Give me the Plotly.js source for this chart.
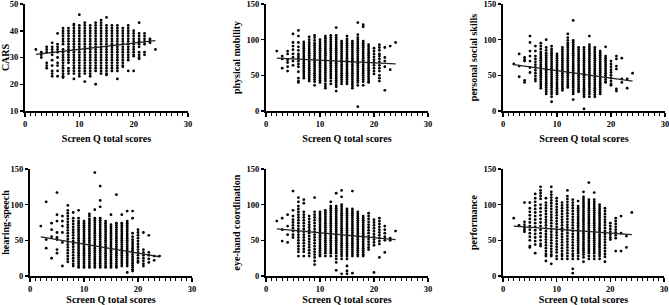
<!DOCTYPE html>
<html>
<head>
<meta charset="utf-8">
<script src="https://cdn.plot.ly/plotly-3.0.1.min.js"></script>
<style>html,body{margin:0;padding:0;background:#fff}#chart{width:669px;height:305px}</style>
</head>
<body>
<div id="chart"></div>
<script>
// Screen Q total score columns: [score, [outcome values]]
const carsCols = [
 [2,[33]],[3,[32,31,30]],[4,[34,33,32,28,27,26]],
 [5,[35.5,34,33,32,31,29,27,25,24,23]],
 [6,[39,35,34,33,32,30,28,27,25,23]],
 [7,[41,40,39,38,37,36,35,33,32,31,30,29,28,27,26,25,24,23,22.5]],
 [8,[41,40,39,38,37,36,35,34,33,32,31,30,29,28,26,25,24]],
 [9,[42.5,42,41,40,39,38,37,36,35,34,33,32,31,30,29,28,27,26,25,24,22]],
 [10,[46,42,41,40,39,38,37,36,35,34,33,32,31,30,29,28,27,26,25,24,23]],
 [11,[43,42,41,40,39,38,37,36,35,34,33,32,31,30,29,28,27,26,25,24,21]],
 [12,[42,41,40,39,38,37,36,35,34,33,32,31,30,29,28,27,26,25,24,23]],
 [13,[43,42,41,40,39,38,37,36,35,34,33,32,31,30,29,28,27,26,25,20]],
 [14,[44,43,42,41,40,39,38,37,36,35,34,33,32,31,30,29,28,27,26,25,24]],
 [15,[45,42,41,40,39,38,37,36,35,34,33,32,31,30,29,28,27,26,25,24,23.5]],
 [16,[42,41,40,39,38,37,36,35,34,33,32,31,30,29,28,27,26,25]],
 [17,[42,41,40,39,38,37,36,35,34,33,32,31,30,29,28,27,26,25,22]],
 [18,[41,40,39,38,37,36,35,34,33,32,31,30,29,28,27,26.5]],
 [19,[42,41,40,39,38,37,36,35,34,33,32,31,30,29,25]],
 [20,[40,39,38,37,36,35,34,33,32,31,30.5,25]],
 [21,[43,39,38,37,36,35,34,32,31,30,29.5]],
 [22,[39,38,37,36,35,32,31]],
 [23,[37,36.5,35.5]],[24,[33]]
];
const physCols = [
 [2,[84]],[3,[77,73,60]],[4,[84,80,72,68,62,56]],
 [5,[108,96,91,86,80,75,70,64]],
 [6,[113,105,96,90,85,80,77,74,70,66,62,55,46,42,40]],
 [7,[97,94,91,88,85,82,79,76,73,70,67,64,61,58,55,52,49,46]],
 [8,[104,100,96,93,90,87,84,81,78,75,72,69,66,63,60,57,54,51,48,45,42]],
 [9,[106,103,99,95,92,89,86,83,80,77,74,71,68,65,62,59,56,53,50,47,44,41,36]],
 [10,[100,97,94,91,88,85,82,79,76,73,70,67,64,61,58,55,52,49,46,43,40]],
 [11,[105,102,99,96,93,90,87,84,81,78,75,72,69,66,63,60,57,54,51,48,45,42,38,35,32]],
 [12,[106,103,100,97,94,91,88,85,82,79,76,73,70,67,64,61,58,55,52,49,46,42,38]],
 [13,[117,106,103,100,97,94,91,88,85,82,79,76,73,70,67,64,61,58,55,52,49,46,43,40,37,34,28]],
 [14,[98,95,92,89,86,83,80,77,74,71,68,65,62,59,56,53,50,47,44,41,38]],
 [15,[105,101,98,95,92,89,86,83,80,77,74,71,68,65,62,59,56,53,50,47,44,41,38]],
 [16,[98,95,92,89,86,83,80,77,74,71,68,65,62,59,56,53,50,47,44,41,38,35,32]],
 [17,[124,107,103,100,97,94,91,88,85,82,79,76,73,70,67,64,61,58,55,52,49,46,43,40,36,6]],
 [18,[121,118,98,95,92,89,86,83,80,77,74,71,68,65,62,59,56,53,50,47,44,41,36]],
 [19,[93,90,87,84,81,78,75,72,69,66,63,60,57,54,51,48,45,42,40]],
 [20,[88,84,80,76,72,68,64,60,56,52]],
 [21,[93,89,85,80,77,73,69,64,60,56,50,46,42]],
 [22,[89,75,70,62,29]],[23,[91,58]],[24,[96]]
];
const socialCols = [
 [2,[66]],[3,[80,63,48]],[4,[75,72,70,43,40]],
 [5,[105,96,84,77,70,61,54]],
 [6,[91,84,77,73,69,65,61,57,53,49,45,42]],
 [7,[95,91,87,83,80,77,74,71,68,65,62,59,56,53,50,47,44,41,38,35,32]],
 [8,[100,89,85,81,78,75,72,69,66,63,60,57,54,51,48,45,42,39,36,33,30,27,24]],
 [9,[91,87,84,81,78,75,72,69,66,63,60,57,54,51,48,45,42,39,36,33,30,27,24,20,13]],
 [10,[80,77,74,71,68,65,62,59,56,53,50,47,44,41,38,35,32,29,26,24]],
 [11,[89,86,83,80,77,74,71,68,65,62,59,56,53,50,47,44,41,38,35,32,29]],
 [12,[108,103,99,95,92,89,86,83,80,77,74,71,68,65,62,59,56,53,50,47,44,41,38,35,33]],
 [13,[127,99,96,93,90,87,84,81,78,75,72,69,66,63,60,57,54,51,48,45,42,39,36,33,30,27,24,16]],
 [14,[89,86,83,80,77,74,71,68,65,62,59,56,53,50,47,44,41,38,35,32,29,27]],
 [15,[89,86,83,80,77,74,71,68,65,62,59,56,53,50,47,44,41,38,35,32,29,26,23,20,3]],
 [16,[105,93,90,87,84,81,78,75,72,69,66,63,60,57,54,51,48,45,42,39,36,33,30,27,24,20]],
 [17,[89,86,83,80,77,74,71,68,65,62,59,56,53,50,47,44,41,38,35,32,29,26,23,20]],
 [18,[84,81,78,75,72,69,66,63,60,57,54,51,48,45,42,39,36,33,30,27,24]],
 [19,[90,77,74,71,68,65,62,59,56,53,50,47,44,41,40]],
 [20,[70,66,62,58,54,50,46,42,38,36]],
 [21,[77,73,63,59,31,28]],
 [22,[74,45,40]],[23,[45,32]],[24,[53]]
];
const hearingCols = [
 [2,[70]],[3,[104,51,39]],[4,[74,65,55,25]],
 [5,[117,86,77,61,54,51,37,32]],
 [6,[84,77,70,61,47,14]],
 [7,[99,92,88,84,80,76,72,68,64,60,56,52,48,44,40,36,32,28,24,20]],
 [8,[89,81,77,73,69,65,61,57,53,49,45,41,37,33,29,25,21,17,14]],
 [9,[92,81,77,74,71,68,65,62,59,56,53,50,47,44,41,38,35,32,29,26,23,20,17,14,12]],
 [10,[77,74,71,68,65,62,59,56,53,50,47,44,41,38,35,32,29,26,23,20,17,14,12]],
 [11,[87,84,80,77,74,71,68,65,62,59,56,53,50,47,44,41,38,35,32,29,26,23,20,17,14,12]],
 [12,[145,93,81,78,75,72,69,66,63,60,57,54,51,48,45,42,39,36,33,30,27,24,21,18,15,12]],
 [13,[126,106,97,81,78,75,72,69,66,63,60,57,54,51,48,45,42,39,36,33,30,27,24,21,18,15,12]],
 [14,[77,74,71,68,65,62,59,56,53,50,47,44,41,38,35,32,29,26,23,20,17,14,12]],
 [15,[86,72,69,66,63,60,57,54,51,48,45,42,39,36,33,30,27,24,21,18,15,12]],
 [16,[114,74,71,68,65,62,59,56,53,50,47,44,41,38,35,32,29,26,23,20,17,14,12]],
 [17,[86,74,71,68,65,62,59,56,53,50,47,44,41,38,35,32,29,26,23,20,17,14]],
 [18,[91,77,74,71,68,65,62,59,56,53,50,47,44,41,38,35,32,29,26,23,20,17,14,5]],
 [19,[91,81,60,55,51,48,45,42,39,36,33,30,27,24,21,18,15,12,9,7]],
 [20,[65,61,57,53,49,45,41,37,33,29,25,21,19]],
 [21,[61,37,33,29,25,21,17,14]],
 [22,[57,33,29,24,19]],[23,[28,22]],[24,[28]]
];
const eyeHandCols = [
 [2,[77]],[3,[81,65,49]],[4,[86,70,58,47]],
 [5,[119,92,84,79,75,71,67,63,58,54]],
 [6,[110,104,98,94,90,86,82,78,74,70,66,62,58,54,50,46,42,38,34,28]],
 [7,[107,102,90,86,82,78,74,70,66,62,58,54,50,46,42,38,34,28]],
 [8,[84,80,76,72,68,64,60,56,52,48,44,40,36,32,28]],
 [9,[110,90,86,82,78,74,70,66,62,58,54,50,46,42,38,34,30,26,21,16]],
 [10,[90,87,84,81,78,75,72,69,66,63,60,57,54,51,48,45,42,39,36,33,30,28]],
 [11,[92,89,86,83,80,77,74,71,68,65,62,59,56,53,50,47,44,41,38,35,32,28]],
 [12,[104,98,95,92,89,86,83,80,77,74,71,68,65,62,59,56,53,50,47,44,41,38,35,32,28]],
 [13,[116,98,95,92,89,86,83,80,77,74,71,68,65,62,59,56,53,50,47,44,41,38,35,32,28,24,19,8]],
 [14,[120,111,100,97,94,91,88,85,82,79,76,73,70,67,64,61,58,55,52,49,46,43,40,37,34,31,28,24,3]],
 [15,[94,91,88,85,82,79,76,73,70,67,64,61,58,55,52,49,46,43,40,37,34,31,28,24,14,7,3]],
 [16,[119,94,91,88,85,82,79,76,73,70,67,64,61,58,55,52,49,46,43,40,37,34,31,28,4]],
 [17,[90,87,84,81,78,75,72,69,66,63,60,57,54,51,48,45,42,39,36,33,30,28]],
 [18,[84,81,78,75,72,69,66,63,60,57,54,51,48,45,42,39,36,33,30,28]],
 [19,[88,84,80,76,72,68,64,60,56,52,48,44,40,37]],
 [20,[79,75,71,67,63,59,55,51,47,43,5]],
 [21,[81,77,73,69,65,61,57,53,49,45,26]],
 [22,[70,65,60,55,50,33]],[23,[53,50]],[24,[63]]
];
const perfCols = [
 [2,[81]],[3,[71]],[4,[103,76,72,68,65,62]],
 [5,[103,95,90,85,80,75,70,65,60,55,50,42,40]],
 [6,[115,109,104,99,94,89,84,79,74,69,64,59,54,49,44,32]],
 [7,[125,120,116,112,108,100,95,90,85,80,75,70,65,60,55,50,45,42]],
 [8,[109,103,99,95,91,87,83,79,75,71,67,63,59,55,51,47,43,39,35,31,28,21]],
 [9,[125,118,114,110,106,102,98,94,90,86,82,78,74,70,66,62,58,54,50,46,42,38,34,30,28,17]],
 [10,[109,105,101,97,93,89,85,81,77,73,69,65,61,57,53,49,45,41,37,33,28,24]],
 [11,[103,99,95,91,87,83,79,75,71,67,63,59,55,51,47,43,39,35,31,28,24]],
 [12,[120,112,108,104,100,96,92,88,84,80,76,72,68,64,60,56,52,48,44,40,36,32,28,24]],
 [13,[107,103,99,95,91,87,83,79,75,71,67,63,59,55,51,47,43,39,35,31,28,24,10,4]],
 [14,[105,98,95,92,89,86,83,80,77,74,71,68,65,62,59,56,53,50,47,44,41,38,35,32,28,24]],
 [15,[118,111,108,105,102,99,96,93,90,87,84,81,78,75,72,69,66,63,60,57,54,51,48,45,42,39,36,33,30,26,20]],
 [16,[131,107,104,101,98,95,92,89,86,83,80,77,74,71,68,65,62,59,56,53,50,47,44,41,38,35,32,28,24]],
 [17,[117,107,104,101,98,95,92,89,86,83,80,77,74,71,68,65,62,59,56,53,50,47,44,41,38,35,32,28,24]],
 [18,[100,97,94,91,88,85,82,79,76,73,70,67,64,61,58,55,52,49,46,43,40,37,34,31,28,24]],
 [19,[95,91,87,83,79,75,71,67,63,59,55,51,47,43,39,35,31,27,20]],
 [20,[74,70,66,62,58,54,51]],
 [21,[81,77,73,69,65,61,57,53,35]],
 [22,[84,60,35]],[23,[56,40]],[24,[89]]
];
// regression line end points
const fitX = [2, 24];
const carsFit = [31.2, 36.3];
const physFit = [74, 66];
const socialFit = [65, 42];
const hearingFit = [55, 27];
const eyeHandFit = [66, 51];
const perfFit = [70, 58];
const panelTitles = ["CARS","physical mobility","personal social skills","hearing-speech","eye-hand coordination","performance"];
const xTitle = "Screen Q total scores";

const panels = [
 {cols:carsCols, fit:carsFit, yr:[10,50], dt:10},
 {cols:physCols, fit:physFit, yr:[0,150], dt:50},
 {cols:socialCols, fit:socialFit, yr:[0,150], dt:50},
 {cols:hearingCols, fit:hearingFit, yr:[0,150], dt:50},
 {cols:eyeHandCols, fit:eyeHandFit, yr:[0,150], dt:50},
 {cols:perfCols, fit:perfFit, yr:[0,150], dt:50}
];
const W = 669, H = 305;
const xPix = [[25,188],[266,428],[503,665],[30,192],[266,428],[503,664]];
const yPix = [[4,111],[4,111],[4,111],[169,276],[169,276],[169,276]];

const font = {family:"'Liberation Serif','Times New Roman',serif", color:'#000'};
const traces = [];
const layout = {
  width:W, height:H, margin:{l:0,r:0,t:0,b:0},
  paper_bgcolor:'#fff', plot_bgcolor:'rgba(0,0,0,0)',
  showlegend:false, font:font
};
panels.forEach((p,i)=>{
  const n = i+1;
  const xa = 'x'+(n===1?'':n), ya = 'y'+(n===1?'':n);
  const xs=[], ys=[];
  p.cols.forEach(c=>c[1].forEach(v=>{xs.push(c[0]); ys.push(v);}));
  traces.push({type:'scatter', mode:'markers', x:xs, y:ys, xaxis:xa, yaxis:ya,
    marker:{size:2.8, color:'#000', symbol:'circle'}, cliponaxis:false, hoverinfo:'skip'});
  traces.push({type:'scatter', mode:'lines', x:fitX, y:p.fit, xaxis:xa, yaxis:ya,
    line:{color:'#222', width:1.3}, hoverinfo:'skip'});
  const xk = 'xaxis'+(n===1?'':n), yk = 'yaxis'+(n===1?'':n);
  layout[xk] = {
    domain:[xPix[i][0]/W, xPix[i][1]/W], anchor:ya, range:[0,30], tickvals:[0,10,20,30],
    showline:true, linewidth:2, linecolor:'#000', ticks:'outside', ticklen:4, tickwidth:1.5, tickcolor:'#000',
    minor:{dtick:1, ticks:'outside', ticklen:2.5, tickwidth:1, tickcolor:'#000', showgrid:false},
    showgrid:false, zeroline:false, fixedrange:true, automargin:false, ticklabeloverflow:'allow',
    tickfont:{family:font.family, size:8.5, color:'#000', weight:'bold'},
    title:{text:'<b>'+xTitle+'</b>', standoff:7, font:{family:font.family, size:10, color:'#000'}}
  };
  layout[yk] = {
    domain:[1-yPix[i][1]/H, 1-yPix[i][0]/H], anchor:xa, range:p.yr, dtick:p.dt, tick0:0,
    showline:true, linewidth:2, linecolor:'#000', ticks:'outside', ticklen:3, tickwidth:1.5, tickcolor:'#000',
    showgrid:false, zeroline:false, fixedrange:true, automargin:false, ticklabeloverflow:'allow',
    tickfont:{family:font.family, size:8.5, color:'#000', weight:'bold'},
    title:{text:'<b>'+panelTitles[i]+'</b>', standoff:4, font:{family:font.family, size:10, color:'#000'}}
  };
});
Plotly.newPlot('chart', traces, layout, {staticPlot:true, displayModeBar:false});
</script>
</body>
</html>
